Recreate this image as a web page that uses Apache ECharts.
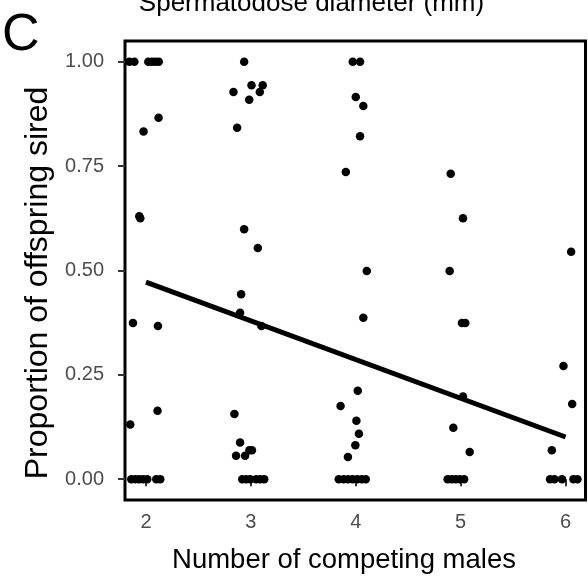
<!DOCTYPE html>
<html><head><meta charset="utf-8">
<script src="https://cdn.jsdelivr.net/npm/echarts@6/dist/echarts.min.js"></script>
<style>html,body{margin:0;padding:0;background:#fff}#c{width:588px;height:576px}</style>
</head><body><div id="c"></div><script>
// tick values
const xTicks = [2, 3, 4, 5, 6];
const yTicks = [0, 0.25, 0.5, 0.75, 1];

// jittered points, grouped by number of competing males
const males2X = [1.841, 1.889, 2.022, 2.055, 2.088, 2.122, 2.12, 1.977, 1.936, 1.946, 1.876, 2.114, 2.11, 1.85, 1.860, 1.898, 1.936, 1.974, 2.012, 2.098, 2.136];
const males2Y = [1, 1, 1, 1, 1, 1, 0.866, 0.833, 0.630, 0.625, 0.374, 0.367, 0.164, 0.131, 0, 0, 0, 0, 0, 0, 0];

const males3X = [2.936, 2.834, 3.006, 3.113, 3.085, 2.984, 2.869, 2.936, 3.066, 2.907, 2.897, 3.10, 2.843, 2.897, 2.859, 2.945, 2.986, 3.01, 2.918, 2.956, 2.994, 3.051, 3.089, 3.127];
const males3Y = [1, 0.928, 0.944, 0.944, 0.928, 0.909, 0.842, 0.599, 0.554, 0.443, 0.399, 0.367, 0.156, 0.088, 0.056, 0.056, 0.069, 0.069, 0, 0, 0, 0, 0, 0];

const males4X = [3.971, 4.041, 4.0, 4.072, 4.041, 3.905, 4.105, 4.072, 4.019, 3.855, 4.006, 4.03, 3.996, 3.925, 3.838, 3.885, 3.928, 3.971, 4.014, 4.057, 4.095];
const males4Y = [1, 1, 0.916, 0.894, 0.822, 0.736, 0.499, 0.387, 0.212, 0.175, 0.140, 0.109, 0.081, 0.053, 0, 0, 0, 0, 0, 0, 0];

const males5X = [4.905, 5.022, 4.895, 5.012, 5.044, 5.022, 4.93, 5.086, 4.876, 4.914, 4.952, 4.990, 5.033];
const males5Y = [0.732, 0.625, 0.499, 0.374, 0.374, 0.198, 0.123, 0.065, 0, 0, 0, 0, 0];

const males6X = [6.053, 5.98, 6.063, 5.869, 5.852, 5.894, 5.966, 6.075, 6.113];
const males6Y = [0.545, 0.271, 0.180, 0.069, 0, 0, 0, 0, 0];

// fitted regression line end points
const fitX = [2, 6];
const fitY = [0.472, 0.101];

const groupsX = [males2X, males3X, males4X, males5X, males6X];
const groupsY = [males2Y, males3Y, males4Y, males5Y, males6Y];
const points = [];
groupsX.forEach((gx, gi) => gx.forEach((x, i) => points.push([x, groupsY[gi][i]])));
const fitLine = fitX.map((x, i) => [x, fitY[i]]);

const FONT = '"Liberation Sans", Arial, Helvetica, sans-serif';
const chart = echarts.init(document.getElementById('c'), null, {renderer: 'canvas'});
chart.setOption({
  animation: false,
  backgroundColor: '#ffffff',
  grid: {left: 125, right: 2.5, top: 41, bottom: 76, show: true, borderColor: '#000', borderWidth: 3, backgroundColor: 'transparent'},
  xAxis: {
    type: 'value', min: 1.8, max: 6.19,
    axisLine: {show: false},
    splitLine: {show: false},
    axisTick: {show: true, customValues: xTicks, length: 7, lineStyle: {color: '#333333', width: 2}},
    axisLabel: {customValues: xTicks, color: '#4D4D4D', fontSize: 20, fontFamily: FONT, margin: 12}
  },
  yAxis: {
    type: 'value', min: -0.05, max: 1.05,
    axisLine: {show: false},
    splitLine: {show: false},
    axisTick: {show: true, customValues: yTicks, length: 7, lineStyle: {color: '#333333', width: 2}},
    axisLabel: {customValues: yTicks, color: '#4D4D4D', fontSize: 20, fontFamily: FONT, margin: 21,
      formatter: v => v.toFixed(2)}
  },
  series: [
    {type: 'scatter', data: points, symbol: 'circle', symbolSize: 8.5, itemStyle: {color: '#000', opacity: 1}, z: 3},
    {type: 'line', data: fitLine, showSymbol: false, lineStyle: {color: '#000', width: 5}, z: 4}
  ],
  graphic: [
    {type: 'text', left: 2, top: 10, style: {text: 'C', fontSize: 52, fontFamily: FONT, fill: '#000'}},
    {type: 'text', x: 311.5, y: 17, style: {text: 'Spermatodose diameter (mm)', fontSize: 26, fontFamily: FONT, fill: '#000', align: 'center', verticalAlign: 'bottom'}},
    {type: 'text', x: 344, y: 560, style: {text: 'Number of competing males', fontSize: 27.5, fontFamily: FONT, fill: '#000', align: 'center', verticalAlign: 'middle'}},
    {type: 'text', x: 38, y: 283, rotation: Math.PI / 2, style: {text: 'Proportion of offspring sired', fontSize: 32, fontFamily: FONT, fill: '#000', align: 'center', verticalAlign: 'middle'}}
  ]
});
</script></body></html>
